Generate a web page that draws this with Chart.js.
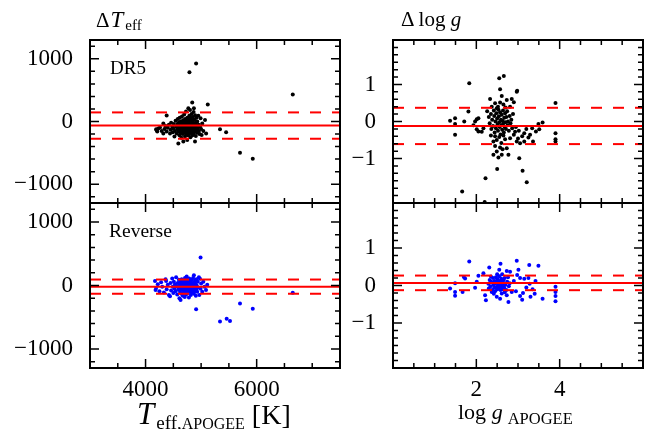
<!DOCTYPE html>
<html lang="en">
<head>
<meta charset="UTF-8">
<title>APOGEE comparison</title>
<script src="https://cdn.jsdelivr.net/npm/chart.js"></script>
<style>
  body { margin: 0; background: #fff; }
  #wrap { position: relative; width: 661px; height: 429px; font-family: "Liberation Serif", "Times New Roman", serif; color: #000; }
  #wrap canvas { position: absolute; left: 0; top: 0; }
  .lbl { position: absolute; white-space: nowrap; line-height: 1; }
  .it { font-style: italic; }
</style>
</head>
<body>
<div id="wrap">
  <canvas id="tl" width="661" height="429"></canvas>
  <canvas id="tr" width="661" height="429"></canvas>
  <canvas id="bl" width="661" height="429"></canvas>
  <canvas id="br" width="661" height="429"></canvas>
  <div class="lbl" style="left:96px;top:8px;font-size:21px">&Delta;<span class="it" style="font-size:23px;margin-left:1px;margin-right:2px">T</span><span style="font-size:15px;vertical-align:-0.2em">eff</span></div>
  <div class="lbl" style="left:401px;top:9px;font-size:21px">&Delta; log <span class="it">g</span></div>
  <div class="lbl" style="left:110px;top:58px;font-size:19px">DR5</div>
  <div class="lbl" style="left:109px;top:221px;font-size:19.5px">Reverse</div>
  <div class="lbl" style="left:137px;top:398px;font-size:28px"><span class="it" style="font-size:31px;margin-right:2px">T</span><span style="font-size:19px;vertical-align:-0.25em">eff,<span style="font-size:16px">APOGEE</span></span> [K]</div>
  <div class="lbl" style="left:458px;top:401px;font-size:22px">log <span class="it">g</span><span style="font-size:16.5px;vertical-align:-0.3em;margin-left:5px">APOGEE</span></div>
</div>
<script>
// tick values
const teffMajor = [4000, 6000];
const teffMinor = [3500, 4000, 4500, 5000, 5500, 6000, 6500, 7000];
const dTeffMajor = [-1000, 0, 1000];
const dTeffMinor = [-1200, -1000, -800, -600, -400, -200, 0, 200, 400, 600, 800, 1000, 1200];
const loggMajor = [2, 4];
const loggMinor = [0.5, 1, 1.5, 2, 2.5, 3, 3.5, 4, 4.5, 5, 5.5];
const dLoggMajor = [-1, 0, 1];
const dLoggMinor = [-2, -1.8, -1.6, -1.4, -1.2, -1, -0.8, -0.6, -0.4, -0.2, 0, 0.2, 0.4, 0.6, 0.8, 1, 1.2, 1.4, 1.6, 1.8, 2];

// mean and +/- spread lines: [mean, upper, lower]
const dr5TeffLines = [-65, 145, -275];
const revTeffLines = [-18, 94, -130];
const dr5LoggLines = [-0.12, 0.37, -0.61];
const revLoggLines = [0.07, 0.265, -0.125];

// DR5: [Teff_APOGEE, dTeff]
const dr5Teff = [
  [4790,785],[4910,925],[6650,430],[5340,-125],[5450,-170],[5700,-500],[5930,-595],[5120,270],[4840,305],
  [4190,-125],[4200,-140],[4210,-160],[4230,-110],[4260,-95],[4290,-150],[4320,-30],[4320,-190],[4340,-120],
  [4360,-70],[4380,95],[4380,-160],[4400,-100],[4420,-50],[4440,-190],[4450,-130],[4460,-20],[4480,-85],
  [4490,-170],[4500,-110],[4510,-40],[4520,-240],[4530,-150],[4540,10],[4550,-80],[4560,-190],[4570,-120],
  [4575,-40],[4580,40],[4590,-350],[4590,-160],[4600,-90],[4600,-10],[4610,-220],[4615,60],[4620,-130],
  [4625,-60],[4630,-180],[4635,0],[4640,-100],[4645,-260],[4650,-30],[4655,80],[4660,-150],[4665,-70],
  [4670,-200],[4675,20],[4680,-320],[4680,-110],[4685,-50],[4690,-170],[4695,110],[4700,-80],[4700,-10],
  [4705,-140],[4710,-240],[4712,40],[4715,-100],[4720,-30],[4725,-190],[4728,160],[4730,-60],[4735,-130],
  [4740,10],[4745,-90],[4748,-170],[4750,-295],[4752,60],[4755,-40],[4760,-120],[4762,-220],[4765,-5],
  [4770,210],[4770,-75],[4775,-150],[4778,30],[4780,-100],[4782,-40],[4785,-200],[4788,90],[4790,-130],
  [4792,-60],[4795,0],[4798,-170],[4800,185],[4800,-90],[4805,-30],[4808,-250],[4810,-140],[4812,50],
  [4815,-70],[4818,-110],[4820,-10],[4825,-180],[4828,120],[4830,-50],[4835,-100],[4838,20],[4840,-150],
  [4845,-220],[4848,-70],[4850,70],[4852,-130],[4855,-20],[4860,-90],[4862,-190],[4865,150],[4870,210],
  [4870,-40],[4875,-120],[4880,30],[4885,-160],[4888,-70],[4890,-320],[4892,100],[4895,-100],[4900,-20],
  [4905,-230],[4910,-140],[4915,60],[4920,-60],[4925,-180],[4930,0],[4940,-110],[4950,90],[4955,-50],
  [4960,-150],[4970,-200],[4980,-80],[4990,50],[5000,-120],[5010,-215],[5020,-30],[5040,-150],[5070,25],[5090,-190]
];

// Reverse: [Teff_APOGEE, dTeff]
const revTeff = [
  [4990,440],[4910,-375],[5340,-567],[5460,-523],[5520,-560],[5700,-285],[5930,-365],[6650,-115],
  [4170,72],[4180,-70],[4190,-40],[4220,20],[4250,-90],[4280,50],[4300,-20],[4330,-110],[4360,100],[4370,70],
  [4380,-60],[4400,10],[4420,-150],[4440,-170],[4450,40],[4460,-80],[4480,110],[4490,-20],[4500,-120],[4510,60],
  [4520,-50],[4530,20],[4540,-90],[4550,130],[4560,-10],[4570,-140],[4580,40],[4590,-60],[4600,90],[4605,-30],
  [4610,-200],[4615,10],[4620,-100],[4625,60],[4630,-230],[4635,-50],[4640,20],[4645,-130],[4650,100],[4655,-10],
  [4660,-70],[4665,50],[4670,-160],[4675,0],[4680,-40],[4685,80],[4690,-110],[4695,30],[4700,-60],[4705,-180],
  [4710,120],[4712,-20],[4715,60],[4720,-90],[4725,10],[4730,-140],[4735,90],[4740,140],[4740,-40],[4745,20],
  [4750,-80],[4755,50],[4760,-120],[4765,-10],[4770,70],[4775,-60],[4780,-190],[4782,30],[4785,110],[4790,-30],
  [4795,-100],[4800,0],[4805,60],[4810,-70],[4815,-150],[4820,20],[4825,90],[4830,-40],[4835,-110],[4840,40],
  [4845,-10],[4850,-80],[4855,120],[4860,10],[4865,-50],[4870,160],[4870,-130],[4875,50],[4880,-20],[4885,-90],
  [4890,80],[4895,-40],[4900,20],[4905,-160],[4910,-60],[4915,100],[4920,0],[4930,-100],[4940,60],[4950,-30],
  [4960,130],[4968,-150],[4980,105],[4990,-50],[5000,30],[5020,-100],[5040,60],[5060,-20],[5088,-72],[5110,10]
];

// DR5: [logg_APOGEE, dlogg]
const dr5Logg = [
  [2.66,1.23],[2.55,1.17],[1.83,1.03],[2.57,0.87],[2.98,0.83],[2.97,0.8],[2.61,0.69],[2.33,0.61],[2.85,0.61],
  [2.73,0.58],[2.9,0.52],[2.45,0.49],[2.57,0.51],[2.65,0.46],[2.37,0.4],[2.49,0.36],[2.81,0.4],[1.81,0.27],
  [1.49,0.09],[1.37,0.02],[1.71,0.0],[1.49,-0.07],[1.97,0.0],[2.01,0.06],[2.05,0.09],[1.49,-0.36],[1.93,-0.1],
  [2.01,-0.21],[2.05,-0.27],[2.13,-0.28],[2.17,-0.18],[2.41,-0.54],[2.49,-0.5],[2.69,-0.48],[2.81,-0.45],
  [2.45,-0.66],[2.57,-0.7],[2.63,-0.75],[2.73,-0.72],[2.49,-0.81],[2.41,-0.9],[2.61,-0.9],[2.77,-0.9],[2.53,-0.97],
  [3.03,-0.99],[2.5,-1.28],[3.11,-1.33],[2.22,-1.53],[3.21,-1.64],[1.66,-1.89],[2.2,-2.17],
  [3.36,-0.54],[3.29,-0.36],[3.15,-0.32],[3.25,-0.43],[3.43,-0.27],[3.49,-0.07],[3.51,-0.21],[3.59,-0.03],
  [3.05,-0.59],[2.97,-0.54],[2.9,-0.36],[3.15,-0.54],[3.34,-0.18],[3.9,0.5],[3.9,-0.32],[3.9,-0.48],[3.9,-0.54],
  [2.95,-0.15],[3.02,-0.25],[3.1,-0.4],[3.2,-0.2],[3.0,-0.46],[2.93,-0.28],
  [2.26,0.28],[2.3,0.12],[2.32,-0.05],[2.35,0.2],[2.36,-0.2],[2.38,0.05],[2.4,-0.12],[2.42,0.3],[2.43,0.15],
  [2.44,-0.3],[2.46,0.0],[2.47,-0.18],[2.48,0.22],[2.5,0.08],[2.51,-0.08],[2.52,-0.25],[2.53,0.32],[2.54,0.14],
  [2.55,-0.02],[2.56,-0.15],[2.57,0.25],[2.58,-0.35],[2.59,0.05],[2.6,-0.1],[2.61,0.18],[2.62,-0.22],[2.63,0.02],
  [2.64,0.3],[2.65,-0.05],[2.66,-0.3],[2.67,0.1],[2.68,-0.15],[2.69,0.22],[2.7,-0.02],[2.71,-0.2],[2.72,0.12],
  [2.74,0.28],[2.75,-0.1],[2.76,0.0],[2.78,-0.25],[2.8,0.15],[2.82,-0.05],[2.84,0.05],[2.86,-0.18],[2.88,0.2],
  [2.45,-0.4],[2.55,-0.42],[2.65,-0.38],[2.35,-0.38],[2.6,-0.58],[2.52,0.4],[2.7,0.38]
];

// Reverse: [logg_APOGEE, dlogg]
const revLogg = [
  [1.83,0.64],[2.58,0.58],[2.97,0.66],[3.27,0.55],[3.49,0.53],[2.31,0.48],[2.73,0.39],[2.81,0.37],[3.01,0.42],
  [2.55,0.42],[2.05,0.26],[2.17,0.33],[1.73,0.19],[1.7,0.23],[1.49,0.06],[1.37,-0.08],[1.49,-0.17],[1.49,-0.27],
  [1.67,-0.17],[1.97,-0.06],[2.01,0.1],[2.21,-0.26],[2.23,-0.39],[2.37,-0.17],[2.49,-0.3],[2.61,-0.21],
  [2.73,-0.26],[2.85,-0.17],[2.77,-0.44],[2.57,-0.35],[3.59,-0.35],[3.9,-0.03],[3.9,-0.17],[3.9,-0.28],[3.9,-0.42],
  [2.95,-0.15],[3.05,-0.28],[3.12,-0.2],[3.2,-0.05],[3.28,0.05],[3.35,-0.1],[3.42,0.12],[3.4,-0.22],[3.25,0.2],
  [3.15,0.18],[3.05,0.2],[2.98,0.28],[2.9,0.12],[3.1,-0.38],[3.3,-0.3],
  [2.29,0.05],[2.3,-0.08],[2.32,0.15],[2.34,-0.02],[2.36,0.1],[2.38,-0.12],[2.4,0.2],[2.41,0.02],[2.43,-0.06],
  [2.44,0.12],[2.45,-0.15],[2.46,0.06],[2.47,0.22],[2.48,-0.04],[2.49,0.1],[2.5,-0.1],[2.51,0.16],[2.52,0.0],
  [2.53,-0.08],[2.54,0.08],[2.55,0.25],[2.56,-0.02],[2.57,0.12],[2.58,-0.12],[2.59,0.04],[2.6,0.18],[2.61,-0.05],
  [2.62,0.1],[2.63,0.0],[2.64,-0.1],[2.65,0.14],[2.66,0.05],[2.67,-0.06],[2.68,0.2],[2.7,0.02],[2.72,-0.12],
  [2.74,0.1],[2.76,0.22],[2.78,-0.02],[2.8,0.06],[2.5,0.3],[2.62,0.3],[2.42,-0.22],[2.68,-0.18],[2.35,0.24]
];

const serif = '"Liberation Serif", "Times New Roman", serif';
const fmt = v => (v < 0 ? '\u2212' + Math.abs(v) : String(v));

const frame = {
  id: 'frame',
  afterDraw(chart, args, o) {
    const { ctx, chartArea: a, scales: { x, y } } = chart;
    ctx.save();
    ctx.strokeStyle = '#000';
    ctx.lineWidth = 1.5;
    ctx.beginPath();
    o.xMinor.forEach(v => {
      const p = x.getPixelForValue(v), L = o.xMajor.includes(v) ? 9 : 5;
      ctx.moveTo(p, a.bottom); ctx.lineTo(p, a.bottom - L);
      ctx.moveTo(p, a.top); ctx.lineTo(p, a.top + L);
    });
    o.yMinor.forEach(v => {
      const p = y.getPixelForValue(v), L = o.yMajor.includes(v) ? 9 : 5;
      ctx.moveTo(a.left, p); ctx.lineTo(a.left + L, p);
      ctx.moveTo(a.right, p); ctx.lineTo(a.right - L, p);
    });
    ctx.stroke();
    ctx.lineWidth = 2;
    ctx.strokeRect(a.left, a.top, a.right - a.left, a.bottom - a.top);
    ctx.restore();
  }
};

function panel(id, pts, color, lines, xr, yr, xMajor, xMinor, yMajor, yMinor, pad, yW, showX) {
  const hl = (v, dash) => ({
    data: [{ x: xr[0], y: v }, { x: xr[1], y: v }],
    showLine: true, borderColor: '#ff0000', borderWidth: 2, borderDash: dash,
    pointRadius: 0, pointHoverRadius: 0
  });
  new Chart(document.getElementById(id), {
    type: 'scatter',
    data: {
      datasets: [
        hl(lines[0], []), hl(lines[1], [11, 11]), hl(lines[2], [11, 11]),
        { data: pts.map(p => ({ x: p[0], y: p[1] })), backgroundColor: color, borderWidth: 0, pointRadius: 2 }
      ]
    },
    options: {
      responsive: false, animation: false, events: [],
      layout: { padding: pad, autoPadding: false },
      plugins: { legend: { display: false }, tooltip: { enabled: false },
        frame: { xMajor, xMinor, yMajor, yMinor } },
      scales: {
        x: {
          type: 'linear', min: xr[0], max: xr[1], display: showX,
          grid: { display: false }, border: { display: false },
          afterBuildTicks: s => { s.ticks = xMajor.map(v => ({ value: v })); },
          afterFit: s => { s.height = showX ? 61 : 0; },
          ticks: { font: { family: serif, size: 23 }, color: '#000', padding: 0, maxRotation: 0, callback: fmt }
        },
        y: {
          type: 'linear', min: yr[0], max: yr[1],
          grid: { display: false }, border: { display: false },
          afterBuildTicks: s => { s.ticks = yMajor.map(v => ({ value: v })); },
          afterFit: s => { s.width = yW; },
          ticks: { font: { family: serif, size: 23 }, color: '#000', padding: 9, callback: fmt }
        }
      }
    },
    plugins: [frame]
  });
}

panel('tl', dr5Teff, '#000000', dr5TeffLines, [3000, 7500], [-1300, 1300],
  teffMajor, teffMinor, dTeffMajor, dTeffMinor, { left: 0, top: 40, right: 321, bottom: 226 }, 90, false);
panel('bl', revTeff, '#0000ff', revTeffLines, [3000, 7500], [-1300, 1300],
  teffMajor, teffMinor, dTeffMajor, dTeffMinor, { left: 0, top: 203, right: 321, bottom: 0 }, 90, true);
panel('tr', dr5Logg, '#000000', dr5LoggLines, [0, 6], [-2.2, 2.2],
  loggMajor, loggMinor, dLoggMajor, dLoggMinor, { left: 333, top: 40, right: 18, bottom: 226 }, 60, false);
panel('br', revLogg, '#0000ff', revLoggLines, [0, 6], [-2.2, 2.2],
  loggMajor, loggMinor, dLoggMajor, dLoggMinor, { left: 333, top: 203, right: 18, bottom: 0 }, 60, true);
</script>
</body>
</html>
